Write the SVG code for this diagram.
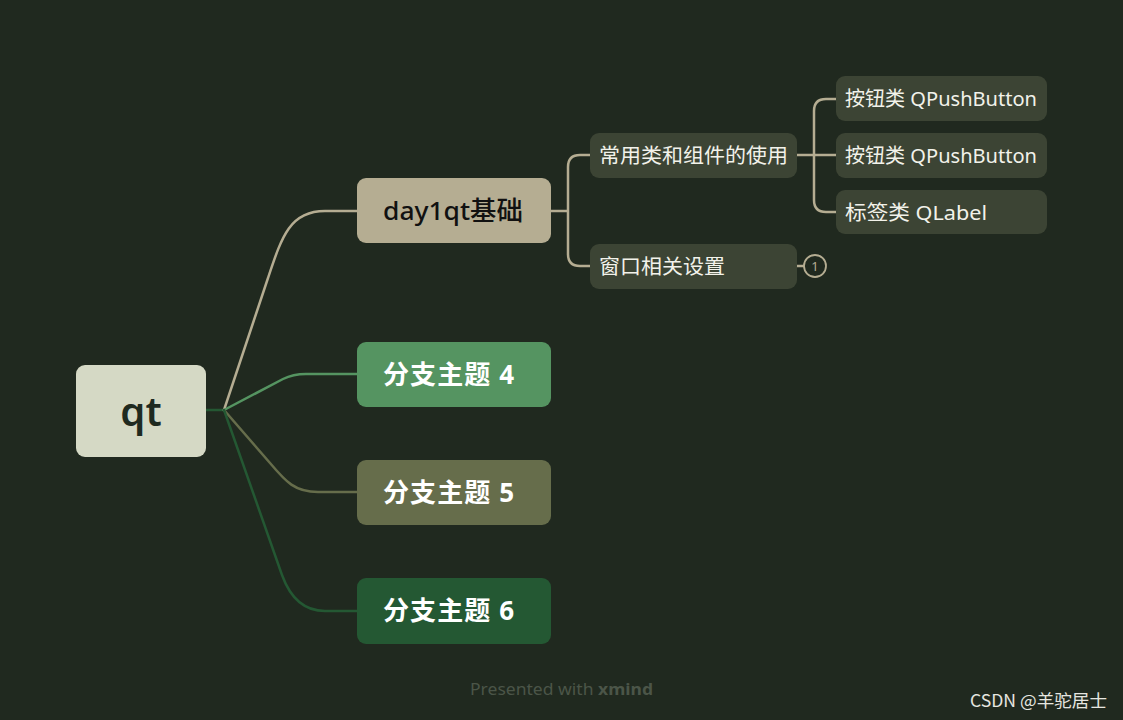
<svg xmlns="http://www.w3.org/2000/svg" width="1123" height="720" viewBox="0 0 1123 720">
<style>
.t{font-family:"Noto Sans","Noto Sans CJK SC",sans-serif;}
.l2{fill:#3c4434;}
.l2t{fill:#f2f2ea;font-size:20.5px;}
.br{fill:#ffffff;font-size:26px;font-weight:700;}
.c{fill:none;stroke-width:2.5;stroke-linecap:round;}
</style>
<rect width="1123" height="720" fill="#20291f"/>
<g id="connectors">
  <path class="c" stroke="#245833" d="M206,410 H224"/>
  <path class="c" stroke="#b5ad92" d="M224,410 L268,278 C282,236 290,211 325,211 L357,211"/>
  <path class="c" stroke="#559461" d="M224,410 L283,379 Q293,374 306,374 L357,374"/>
  <path class="c" stroke="#666d4b" d="M224,410 L270,463 C286,482 295,492 318,492 L357,492"/>
  <path class="c" stroke="#245833" d="M224,410 L282,575 Q295,611 325,611 L357,611"/>
  <path class="c" stroke="#b5ad92" stroke-width="3" d="M551,211 H568 M590,155 H580 Q568,155 568,167 V254 Q568,266 580,266 H590"/>
  <path class="c" stroke="#b5ad92" stroke-width="3" d="M797,155 H836 M836,99 H826 Q814,99 814,111 V200 Q814,212 826,212 H836"/>
  <path class="c" stroke="#b5ad92" stroke-width="2" d="M797,266 H804"/>
</g>
<g id="root">
  <rect x="76" y="365" width="130" height="92" rx="9" fill="#d5d9c5"/>
  <text class="t" x="141" y="426" text-anchor="middle" font-size="40" font-weight="600" fill="#1f2a1f">qt</text>
</g>
<g id="day1">
  <rect x="357" y="178" width="194" height="65" rx="9" fill="#b5ad92"/>
  <text class="t" x="383" y="220" font-size="26" font-weight="500" fill="#111111" textLength="140" lengthAdjust="spacingAndGlyphs">day1qt基础</text>
</g>
<g id="branch4">
  <rect x="357" y="342" width="194" height="65" rx="9" fill="#559461"/>
  <text class="t br" x="383" y="384" textLength="131" lengthAdjust="spacing">分支主题 4</text>
</g>
<g id="branch5">
  <rect x="357" y="460" width="194" height="65" rx="9" fill="#666d4b"/>
  <text class="t br" x="383" y="502" textLength="131" lengthAdjust="spacing">分支主题 5</text>
</g>
<g id="branch6">
  <rect x="357" y="578" width="194" height="66" rx="9" fill="#245833"/>
  <text class="t br" x="383" y="620" textLength="131" lengthAdjust="spacing">分支主题 6</text>
</g>
<g id="common">
  <rect class="l2" x="590" y="133" width="207" height="45" rx="9"/>
  <text class="t l2t" x="599" y="163" textLength="189" lengthAdjust="spacingAndGlyphs">常用类和组件的使用</text>
</g>
<g id="window">
  <rect class="l2" x="590" y="244" width="207" height="45" rx="9"/>
  <text class="t l2t" x="599" y="274" textLength="126" lengthAdjust="spacingAndGlyphs">窗口相关设置</text>
  <circle cx="815" cy="266" r="11" fill="#20291f" stroke="#b5ad92" stroke-width="1.8"/>
  <text class="t" x="815" y="271" text-anchor="middle" font-size="13" fill="#b5ad92">1</text>
</g>
<g id="btn1">
  <rect class="l2" x="836" y="76" width="211" height="45" rx="9"/>
  <text class="t l2t" x="845" y="106" textLength="192" lengthAdjust="spacingAndGlyphs">按钮类 QPushButton</text>
</g>
<g id="btn2">
  <rect class="l2" x="836" y="133" width="211" height="45" rx="9"/>
  <text class="t l2t" x="845" y="163" textLength="192" lengthAdjust="spacingAndGlyphs">按钮类 QPushButton</text>
</g>
<g id="label">
  <rect class="l2" x="836" y="190" width="211" height="44" rx="9"/>
  <text class="t l2t" x="845" y="220" textLength="142" lengthAdjust="spacingAndGlyphs">标签类  QLabel</text>
</g>
<text class="t" x="470" y="695" font-size="16" fill="#4b5548" textLength="183" lengthAdjust="spacingAndGlyphs">Presented with <tspan font-weight="700">xmind</tspan></text>
<text x="1107" y="707" text-anchor="end" font-size="17" fill="#e6e6e0" font-family="'Noto Sans CJK SC',sans-serif" textLength="137" lengthAdjust="spacingAndGlyphs">CSDN @羊驼居士</text>
</svg>
